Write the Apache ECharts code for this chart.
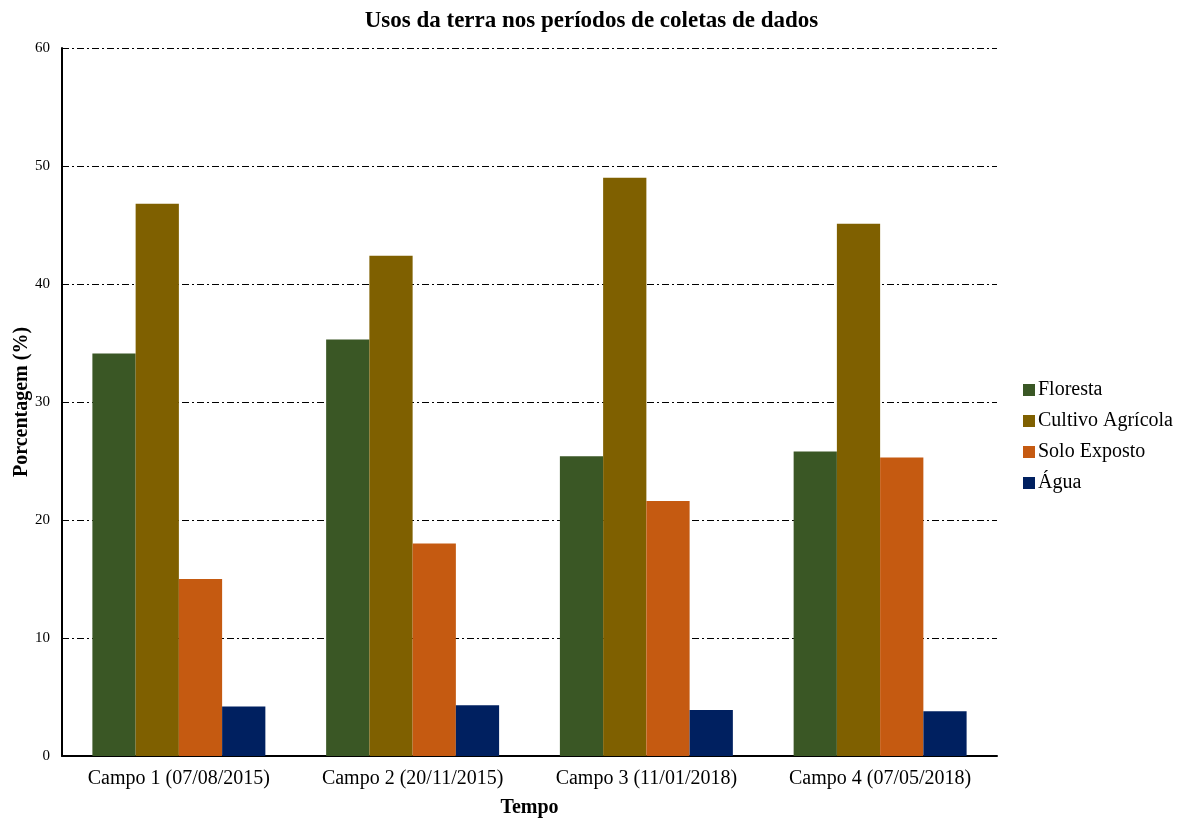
<!DOCTYPE html>
<html>
<head>
<meta charset="utf-8">
<script src="https://cdn.jsdelivr.net/npm/echarts@6/dist/echarts.min.js"></script>
<style>
  html, body { margin: 0; padding: 0; background: #fff; }
  #chart { width: 1183px; height: 819px; }
</style>
</head>
<body>
<div id="chart"></div>
<script>
// Land-use share per field campaign (%)
const categories = ['Campo 1 (07/08/2015)', 'Campo 2 (20/11/2015)', 'Campo 3 (11/01/2018)', 'Campo 4 (07/05/2018)'];
const floresta = [34.1, 35.3, 25.4, 25.8];
const cultivo = [46.8, 42.4, 49.0, 45.1];
const solo = [15.0, 18.0, 21.6, 25.3];
const agua = [4.2, 4.3, 3.9, 3.8];
const seriesNames = ['Floresta', 'Cultivo Agrícola', 'Solo Exposto', 'Água'];
const yTicks = [0, 10, 20, 30, 40, 50, 60];

const colors = ['#3a5725', '#7f6000', '#c55a11', '#002060'];
const font = '"Liberation Serif", "Times New Roman", serif';

const chart = echarts.init(document.getElementById('chart'));
const seriesData = [floresta, cultivo, solo, agua];

chart.setOption({
  animation: false,
  textStyle: { fontFamily: font },
  title: {
    text: 'Usos da terra nos períodos de coletas de dados',
    left: 'center',
    top: 5,
    textStyle: { fontFamily: font, fontSize: 23, fontWeight: 'bold', color: '#000' }
  },
  legend: {
    orient: 'vertical',
    left: 1018,
    top: 375,
    itemWidth: 12,
    itemHeight: 12,
    itemGap: 11,
    icon: 'rect',
    textStyle: { fontFamily: font, fontSize: 20, color: '#000', padding: [0, 0, 0, -2] },
    data: seriesNames
  },
  grid: { left: 62, right: 186, top: 48, bottom: 63, containLabel: false, outerBoundsMode: 'none' },
  xAxis: {
    type: 'category',
    data: categories,
    name: 'Tempo',
    nameLocation: 'middle',
    nameGap: 42,
    nameMoveOverlap: false,
    nameTextStyle: { fontFamily: font, fontSize: 20, fontWeight: 'bold', color: '#000' },
    axisLine: { lineStyle: { color: '#000', width: 2 } },
    axisTick: { show: false },
    axisLabel: { interval: 0, fontFamily: font, fontSize: 20, color: '#000', margin: 13 }
  },
  yAxis: {
    type: 'value',
    min: yTicks[0],
    max: yTicks[yTicks.length - 1],
    interval: 10,
    name: 'Porcentagem (%)',
    nameLocation: 'middle',
    nameGap: 30,
    nameMoveOverlap: false,
    nameTextStyle: { fontFamily: font, fontSize: 20, fontWeight: 'bold', color: '#000' },
    axisLine: { show: true, lineStyle: { color: '#000', width: 2 } },
    axisTick: { show: false },
    axisLabel: { fontFamily: font, fontSize: 15, color: '#000', margin: 12 },
    splitLine: { lineStyle: { color: '#000', width: 1, type: [7, 3, 2, 3] } }
  },
  series: seriesData.map((d, i) => ({
    name: seriesNames[i],
    type: 'bar',
    data: d,
    barGap: '0%',
    barCategoryGap: '26%',
    itemStyle: { color: colors[i] }
  }))
});
</script>
</body>
</html>
